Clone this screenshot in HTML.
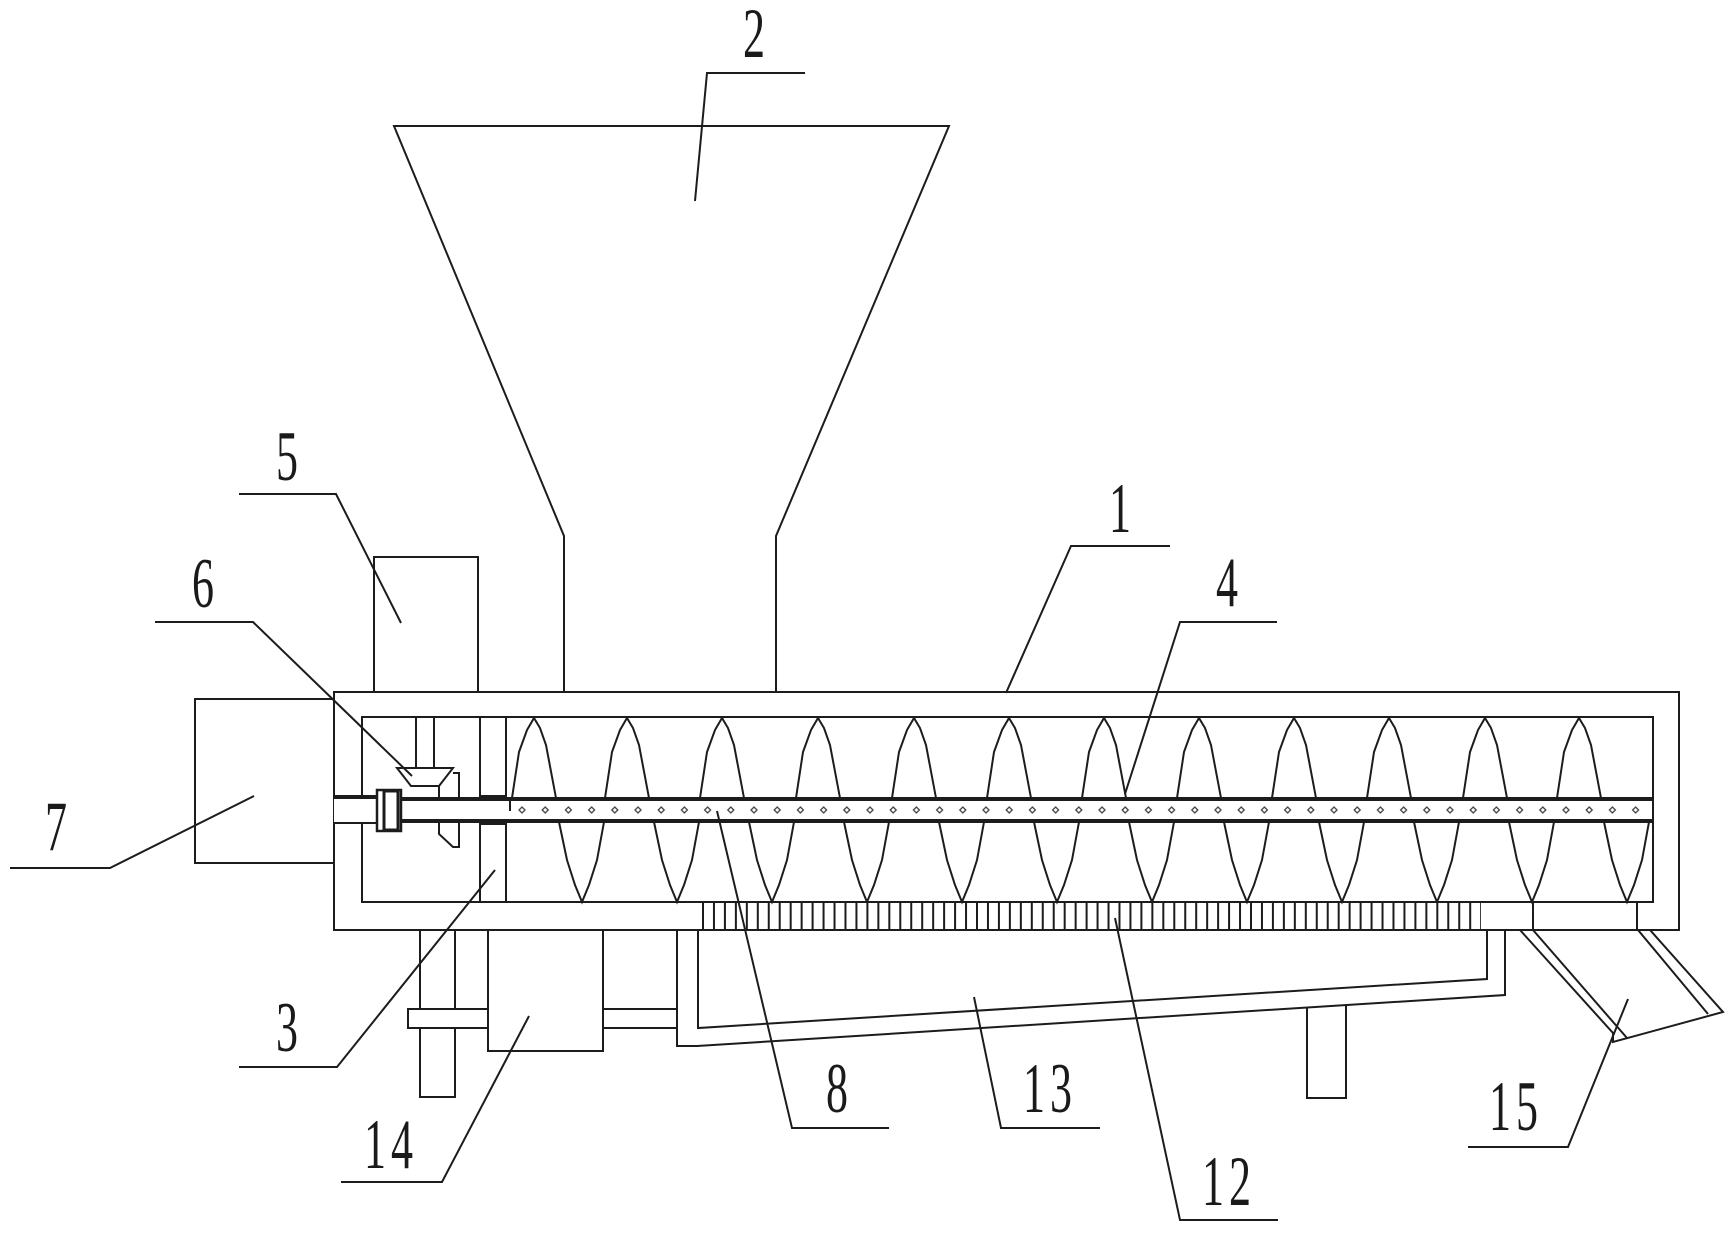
<!DOCTYPE html>
<html>
<head>
<meta charset="utf-8">
<style>
html,body{margin:0;padding:0;background:#fff;width:1734px;height:1237px;overflow:hidden}
svg{display:block}
text{font-family:"Liberation Serif",serif;font-size:71px;fill:#1a1a1a;letter-spacing:8px}
</style>
</head>
<body>
<svg width="1734" height="1237" viewBox="0 0 1734 1237" xmlns="http://www.w3.org/2000/svg">
<defs>
<pattern id="dots" patternUnits="userSpaceOnUse" x="510.4" y="804" width="23.2" height="12">
<path d="M11.6 3 L14.6 6 L11.6 9 L8.6 6 Z" fill="#fff" stroke="#444" stroke-width="1.3"/>
</pattern>
<polyline id="up" points="-22,798 -15,752 -7,730 0,718 6,728 12,745 22,798"/>
<polyline id="dn" points="-23,822 -15,860 -7,885 0,902 7,885 15,860 22,822"/>
</defs>
<rect width="1734" height="1237" fill="#fff"/>
<g fill="none" stroke="#1c1c1c" stroke-width="2">
<!-- hopper -->
<path d="M564 692V536L394 126H949L776 536V692"/>
<!-- motor 5 -->
<path d="M374 692V557H478V692"/>
<!-- motor 7 -->
<path d="M334 699H195V863H334"/>
<!-- body -->
<rect x="334" y="692" width="1345" height="238"/>
<rect x="362" y="717" width="1291" height="185"/>
<!-- shaft stub -->
<rect x="334" y="797" width="42" height="26" fill="#fff" stroke="none"/>
<path d="M334 797H376" stroke-width="4"/>
<path d="M334 823H376"/>
<rect x="363" y="799" width="14" height="23" fill="#fff" stroke="none"/>
<!-- plate -->
<path d="M480 717V798M506 717V798M480 822V902M506 822V902"/>
<!-- vertical shaft and gears -->
<path d="M416 717V768M434 717V768"/>
<path d="M397 768H453L439 786H411Z"/>
<path d="M453 773H459V798M439 786V798"/>
<path d="M439 822V834L453 847H459V822"/>
<!-- shaft -->
<path d="M401 799H1653M401 821H1653" stroke-width="4"/>
<path d="M480 798H506M480 822H506" stroke-width="6"/>
<path d="M510 798V811"/>
<!-- coupling -->
<rect x="377" y="790" width="24" height="41" fill="#fff" stroke-width="2.5"/>
<rect x="384" y="791" width="14" height="39" fill="#fff" stroke-width="3"/>
<!-- helix upper -->
<use href="#up" x="534"/><use href="#up" x="627"/><use href="#up" x="722"/><use href="#up" x="818"/>
<use href="#up" x="914"/><use href="#up" x="1009"/><use href="#up" x="1104"/><use href="#up" x="1199"/>
<use href="#up" x="1294"/><use href="#up" x="1389"/><use href="#up" x="1485"/><use href="#up" x="1579"/>
<!-- helix lower -->
<use href="#dn" x="582"/><use href="#dn" x="677"/><use href="#dn" x="772"/><use href="#dn" x="867"/>
<use href="#dn" x="962"/><use href="#dn" x="1057"/><use href="#dn" x="1152"/><use href="#dn" x="1247"/>
<use href="#dn" x="1342"/><use href="#dn" x="1437"/><use href="#dn" x="1532"/><use href="#dn" x="1627"/>
<!-- comb -->
<path d="M702 916H1481" stroke-width="28" stroke-dasharray="2 8.96"/>
<path d="M1533 902V930M1637 902V930"/>
<!-- legs / gearbox / trough -->
<path d="M420 930V1009M455 930V1009M420 1028V1097H455V1028"/>
<path d="M488 1009H408V1028H488"/>
<path d="M488 930V1051H603V930"/>
<path d="M603 1009H677M603 1028H677"/>
<path d="M677 930V1046H697L1505 995V930"/>
<path d="M698 930V1028L1487 979V930"/>
<path d="M1307 1007V1098H1346V1005"/>
<!-- discharge -->
<path d="M1520 930L1613 1033V1042L1723 1012L1650 930"/>
<path d="M1533 930L1627 1038M1638 930L1708 1014"/>
<!-- leaders -->
<g stroke-width="2">
<path d="M805 73H707L695 201"/>
<path d="M239 494H336L401 623"/>
<path d="M155 622H253L412 776"/>
<path d="M10 868H110L254 796"/>
<path d="M1170 546H1071L1006 693"/>
<path d="M1277 622H1180L1125 794"/>
<path d="M239 1067H337L495 870"/>
<path d="M341 1182H442L529 1016"/>
<path d="M889 1128H792L717 811"/>
<path d="M1100 1128H1001L974 997"/>
<path d="M1278 1220H1180L1115 918"/>
<path d="M1468 1147H1568L1628 999"/>
</g>
</g>
<rect x="510.4" y="804" width="1139" height="12" fill="url(#dots)"/>
<g>
<text transform="translate(743,57) scale(.62,1)">2</text>
<text transform="translate(276,480) scale(.62,1)">5</text>
<text transform="translate(192,607) scale(.62,1)">6</text>
<text transform="translate(45,850) scale(.62,1)">7</text>
<text transform="translate(1109,532) scale(.62,1)">1</text>
<text transform="translate(1216,606) scale(.62,1)">4</text>
<text transform="translate(276,1051) scale(.62,1)">3</text>
<text transform="translate(826,1112) scale(.62,1)">8</text>
<text transform="translate(364,1168) scale(.62,1)">14</text>
<text transform="translate(1023,1112) scale(.62,1)">13</text>
<text transform="translate(1202,1205) scale(.62,1)">12</text>
<text transform="translate(1489,1130) scale(.62,1)">15</text>
</g>
</svg>
</body>
</html>
